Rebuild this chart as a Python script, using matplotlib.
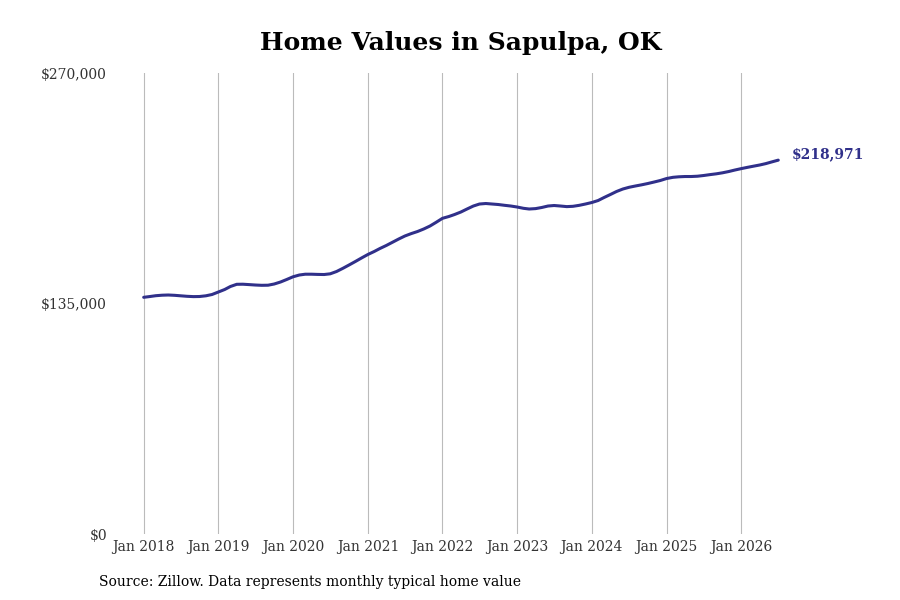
import numpy as np
import pandas as pd
import matplotlib
matplotlib.use("Agg")
import matplotlib.pyplot as plt
import matplotlib.dates as mdates

# Monthly typical home value, Jan 2018 - Jul 2026
values = [
    138630, 139100, 139570, 139860, 139980, 139800, 139510, 139220, 139040, 139100, 139510, 140270,  # 2018
    141730, 143200, 144960, 146250, 146300, 146070, 145830, 145660, 145720, 146420, 147590, 149050,  # 2019
    150640, 151690, 152160, 152160, 152040, 151980, 152390, 153740, 155610, 157550, 159600, 161650,  # 2020
    163700, 165450, 167210, 168970, 170840, 172780, 174530, 175940, 177170, 178630, 180390, 182560,  # 2021
    184900, 185950, 187120, 188590, 190350, 192100, 193270, 193570, 193270, 192980, 192510, 192100,  # 2022
    191520, 190760, 190350, 190580, 191230, 192100, 192400, 192100, 191750, 191930, 192510, 193270,  # 2023
    194150, 195320, 197080, 198840, 200600, 202060, 203060, 203820, 204520, 205280, 206160, 207040,  # 2024
    208210, 208910, 209210, 209380, 209380, 209560, 209970, 210490, 210960, 211550, 212310, 213190,  # 2025
    214010, 214770, 215420, 216120, 216940, 217990, 218971,                                          # 2026
]
dates = pd.date_range("2018-01-01", periods=len(values), freq="MS")
tick_years = list(range(2018, 2027))
y_ticks = [0, 135000, 270000]
y_labels = ["$0", "$135,000", "$270,000"]

line_color = "#30308a"
plt.rcParams["font.family"] = ["DejaVu Serif"]

fig = plt.figure(figsize=(9, 6), dpi=100)
ax = fig.add_axes([0.1244, 0.11, 0.7756, 0.7683])

ax.plot(dates, values, color=line_color, linewidth=2.2, solid_capstyle="round")

ax.set_ylim(0, 270000)
ax.set_yticks(y_ticks)
ax.set_yticklabels(y_labels)
ax.set_xticks([pd.Timestamp(f"{y}-01-01") for y in tick_years])
ax.xaxis.set_major_formatter(mdates.DateFormatter("Jan %Y"))
ax.tick_params(axis="both", length=0, labelsize=10, colors="#333333")
ax.tick_params(axis="y", pad=3.5)
ax.tick_params(axis="x", pad=4)

ax.grid(axis="x", color="#bbbbbb", linewidth=0.8)
ax.grid(axis="y", visible=False)
for s in ax.spines.values():
    s.set_visible(False)

ax.annotate(f"${values[-1]:,}", xy=(dates[-1], values[-1]), xytext=(10, 4),
            textcoords="offset points", ha="left", va="center",
            fontsize=10, fontweight="bold", color=line_color)

fig.text(0.512, 0.928, "Home Values in Sapulpa, OK", ha="center", va="center",
         fontsize=18, fontweight="bold", color="black")
fig.text(0.11, 0.03, "Source: Zillow. Data represents monthly typical home value",
         ha="left", va="center", fontsize=10, color="black")

fig.savefig("out.png", dpi=100)
